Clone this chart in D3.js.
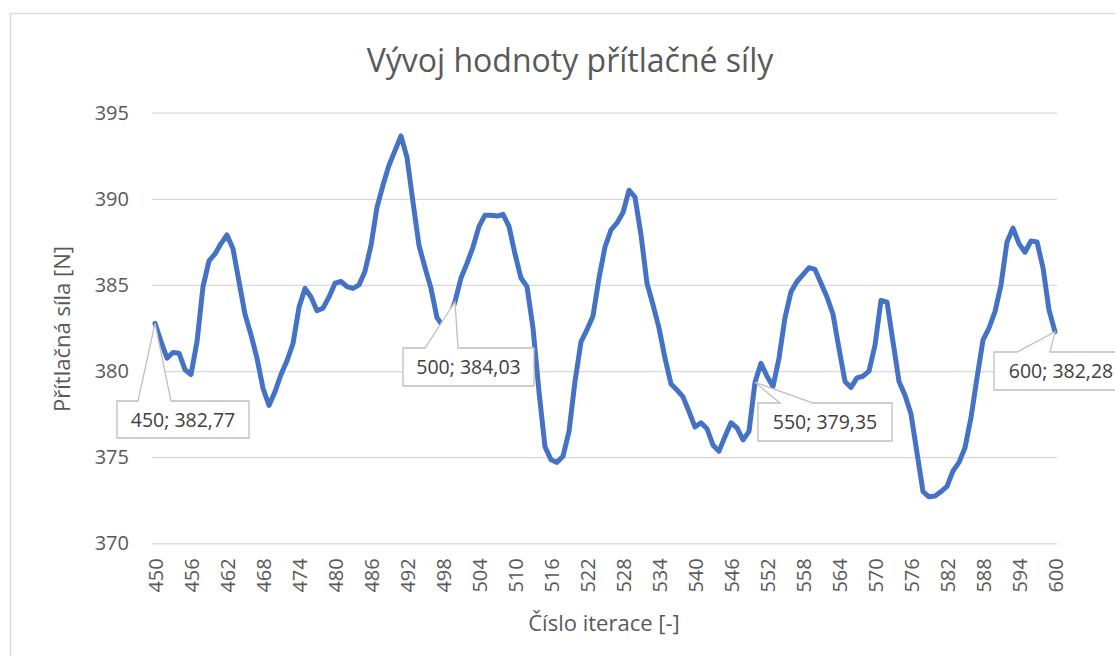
<!DOCTYPE html>
<html>
<head>
<meta charset="utf-8">
<script src="https://cdn.jsdelivr.net/npm/d3@7"></script>
<style>
  body { margin: 0; background: #fff; }
  text { font-family: "Open Sans", "Noto Sans", sans-serif; }
</style>
</head>
<body>
<div id="chart"></div>
<script>
// iteration 450 .. 600, one value per iteration
const firstIteration = 450;
const forceValues = [
  382.77, 381.72, 380.75, 381.08, 381.04, 380.08, 379.8, 381.7, 384.9, 386.4,
  386.8, 387.4, 387.9, 387.1, 385.2, 383.3, 382.1, 380.75, 379.0, 378.0,
  378.8, 379.8, 380.6, 381.6, 383.7, 384.8, 384.3, 383.5, 383.65, 384.3,
  385.1, 385.2, 384.9, 384.8, 385.0, 385.8, 387.3, 389.5, 390.8, 391.95,
  392.8, 393.65, 392.4, 389.8, 387.3, 386.0, 384.8, 383.1, 382.6, 383.0,
  384.03, 385.4, 386.25, 387.2, 388.4, 389.05, 389.05, 389.0, 389.1, 388.4,
  386.8, 385.4, 384.9, 382.5, 378.8, 375.6, 374.85, 374.7, 375.05, 376.5,
  379.4, 381.7, 382.4, 383.2, 385.4, 387.2, 388.2, 388.6, 389.2, 390.5,
  390.1, 387.9, 385.1, 383.85, 382.5, 380.75, 379.25, 378.9, 378.5, 377.65,
  376.75, 377.0, 376.65, 375.7, 375.35, 376.2, 377.0, 376.7, 376.0, 376.5,
  379.35, 380.45, 379.7, 379.1, 380.75, 383.1, 384.6, 385.2, 385.6, 386.0,
  385.9, 385.1, 384.3, 383.3, 381.3, 379.4, 379.05, 379.6, 379.7, 380.0,
  381.5, 384.1, 384.0, 381.7, 379.4, 378.6, 377.5, 375.25, 373.0, 372.7,
  372.75, 373.0, 373.3, 374.2, 374.7, 375.55, 377.3, 379.6, 381.8, 382.5,
  383.45, 385.0, 387.5, 388.3, 387.4, 386.9, 387.55, 387.5, 386.0, 383.55,
  382.28
];
const yTicks = [370, 375, 380, 385, 390, 395];
const xTicks = [450, 456, 462, 468, 474, 480, 486, 492, 498, 504, 510, 516, 522,
  528, 534, 540, 546, 552, 558, 564, 570, 576, 582, 588, 594, 600];
const labelledIterations = [450, 500, 550, 600];

const title = "Vývoj hodnoty přítlačné síly";
const xTitle = "Číslo iterace [-]";
const yTitle = "Přítlačná síla [N]";

const W = 1115, H = 656;
const plot = { left: 152, right: 1057, top: 112.7, bottom: 543.3 };

// callout boxes (left, top, width, height, pointer base left/right)
const callouts = {
  450: { x: 117, y: 401, w: 132, h: 37, b1: 138, b2: 171 },
  500: { x: 403, y: 348, w: 131, h: 38, b1: 425, b2: 458 },
  550: { x: 758, y: 403, w: 134, h: 38, b1: 780, b2: 813 },
  600: { x: 994, y: 352, w: 134, h: 38, b1: 1017, b2: 1050 }
};

const fmt = v => String(v.toFixed(2)).replace(".", ",");

const svg = d3.select("#chart").append("svg")
  .attr("width", W).attr("height", H);

// chart area border
svg.append("rect")
  .attr("x", 10.5).attr("y", 13.5)
  .attr("width", 1130).attr("height", 660)
  .attr("fill", "#fff").attr("stroke", "#d9d9d9").attr("stroke-width", 1.3);

const x = d3.scaleLinear().domain([450, 600]).range([155, 1055]);
const y = d3.scaleLinear().domain([370, 395]).range([plot.bottom, plot.top]);

// gridlines
const grid = svg.append("g")
  .attr("transform", `translate(${plot.left},0)`)
  .call(d3.axisLeft(y).tickValues(yTicks).tickSize(-(plot.right - plot.left)).tickFormat(""));
grid.select(".domain").remove();
grid.selectAll("line").attr("stroke", "#d9d9d9").attr("stroke-width", 1.3);

// y axis labels
const yAxis = svg.append("g")
  .attr("transform", `translate(${plot.left},0)`)
  .call(d3.axisLeft(y).tickValues(yTicks).tickSize(0).tickPadding(23));
yAxis.select(".domain").remove();
yAxis.selectAll("text")
  .attr("fill", "#595959").style("font-size", "20px")
  .style("font-family", "'Open Sans', sans-serif");

// x axis labels, rotated
const xAxis = svg.append("g")
  .attr("transform", `translate(0,${plot.bottom})`)
  .call(d3.axisBottom(x).tickValues(xTicks).tickSize(0));
xAxis.select(".domain").remove();
xAxis.selectAll("text")
  .attr("transform", "rotate(-90)")
  .attr("x", -15).attr("y", 0).attr("dy", "0.35em")
  .attr("text-anchor", "end")
  .attr("fill", "#595959").style("font-size", "20px")
  .style("font-family", "'Open Sans', sans-serif");

// line
const line = d3.line()
  .x((d, i) => x(firstIteration + i))
  .y(d => y(d));

svg.append("path")
  .datum(forceValues)
  .attr("fill", "none")
  .attr("stroke", "#4472c4")
  .attr("stroke-width", 5)
  .attr("stroke-linejoin", "round")
  .attr("stroke-linecap", "round")
  .attr("d", line);

// data label callouts
labelledIterations.forEach(it => {
  const c = callouts[it];
  const v = forceValues[it - firstIteration];
  const tx = x(it), ty = y(v);
  const p = d3.path();
  p.moveTo(c.x, c.y);
  p.lineTo(c.b1, c.y);
  p.lineTo(tx, ty);
  p.lineTo(c.b2, c.y);
  p.lineTo(c.x + c.w, c.y);
  p.lineTo(c.x + c.w, c.y + c.h);
  p.lineTo(c.x, c.y + c.h);
  p.closePath();
  svg.append("path")
    .attr("d", p.toString())
    .attr("fill", "#fff")
    .attr("stroke", "#bfbfbf")
    .attr("stroke-width", 1.3);
  svg.append("text")
    .attr("x", c.x + c.w / 2)
    .attr("y", c.y + c.h / 2)
    .attr("dy", "0.36em")
    .attr("text-anchor", "middle")
    .attr("fill", "#404040")
    .style("font-size", "19.5px")
    .text(`${it}; ${fmt(v)}`);
});

// titles
svg.append("text")
  .attr("x", 570).attr("y", 72)
  .attr("text-anchor", "middle")
  .attr("fill", "#595959")
  .style("font-size", "32px")
  .text(title);

svg.append("text")
  .attr("x", 604).attr("y", 631)
  .attr("text-anchor", "middle")
  .attr("fill", "#595959")
  .style("font-size", "22px")
  .text(xTitle);

svg.append("text")
  .attr("transform", "translate(70,329) rotate(-90)")
  .attr("text-anchor", "middle")
  .attr("fill", "#595959")
  .style("font-size", "22px")
  .text(yTitle);
</script>
</body>
</html>
